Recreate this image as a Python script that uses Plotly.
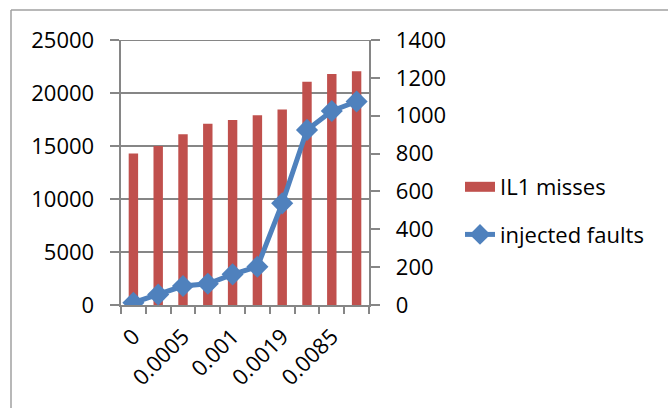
import plotly.graph_objects as go

categories = ["0", "0.0001", "0.0005", "0.0008", "0.001", "0.0015", "0.0019", "0.005", "0.0085", "0.01"]
il1_misses = [14300, 15000, 16100, 17100, 17450, 17900, 18450, 21050, 21800, 22050]
injected_faults = [12, 55, 100, 112, 162, 202, 537, 925, 1025, 1075]
left_ticks = [0, 5000, 10000, 15000, 20000, 25000]
right_ticks = [0, 200, 400, 600, 800, 1000, 1200, 1400]

W, H = 668, 408
L, R, T, B = 121, 369, 40, 305
pw, ph = R - L, B - T

def px_x(x):
    return (x - L) / pw

def px_y(y):
    return (B - y) / ph

font = dict(family="Open Sans, Liberation Sans, sans-serif", size=22, color="#000000")
grey = "#868686"
red = "#C0504D"
blue = "#4F81BD"

fig = go.Figure()
fig.add_trace(go.Bar(x=categories, y=il1_misses, name="IL1 misses",
                     marker=dict(color=red, line=dict(width=0)), yaxis="y",
                     showlegend=False, legendgroup="a"))
# legend entry for the bars, drawn as a wide block like the original
fig.add_trace(go.Scatter(x=[None], y=[None], name="IL1 misses", mode="lines",
                         line=dict(color=red, width=16), legendgroup="a",
                         showlegend=True, hoverinfo="skip"))
fig.add_trace(go.Scatter(x=categories, y=injected_faults, name="injected faults",
                         mode="lines+markers", yaxis="y2", legendgroup="b",
                         line=dict(color=blue, width=5),
                         marker=dict(symbol="diamond", size=17, color=blue)))

ticktext = [c if i % 2 == 0 else "" for i, c in enumerate(categories)]

# gridlines at the left-axis tick values, placed on the data axes, beneath the bars
grid_shapes = [
    dict(type="line", xref="x", yref="y", x0=-0.5, x1=len(categories) - 0.5,
         y0=v, y1=v, layer="below", line=dict(color=grey, width=2))
    for v in left_ticks[1:]
]

fig.update_layout(
    width=W, height=H,
    margin=dict(l=L, r=W - R, t=T, b=H - B, pad=0, autoexpand=False),
    paper_bgcolor="white", plot_bgcolor="rgba(0,0,0,0)",
    font=font,
    bargap=0.62,
    hovermode=False,
    showlegend=True,
    legend=dict(x=px_x(460), y=px_y(211), xanchor="left", yanchor="middle",
                font=font, bgcolor="rgba(0,0,0,0)", tracegroupgap=16, itemwidth=30),
    xaxis=dict(type="category", categoryorder="array", categoryarray=categories,
               tickmode="array", tickvals=categories, ticktext=ticktext,
               tickson="boundaries", ticks="outside", ticklen=7, tickcolor=grey,
               tickwidth=2, showline=True, linecolor=grey, linewidth=2, showgrid=False,
               tickangle=-45, range=[-0.5, len(categories) - 0.5], automargin=False,
               ticklabelstandoff=8),
    yaxis=dict(range=[0, 25000], tickmode="array", tickvals=left_ticks,
               ticktext=[str(v) + "  " for v in left_ticks], ticks="outside", ticklen=9,
               tickwidth=2, tickcolor=grey, showline=True, linecolor=grey, linewidth=2,
               showgrid=True, gridcolor=grey, gridwidth=2, zeroline=False,
               automargin=False, layer="below traces"),
    yaxis2=dict(range=[0, 1400], tickmode="array", tickvals=right_ticks,
                ticktext=["  " + str(v) for v in right_ticks], overlaying="y", side="right",
                ticks="outside", ticklen=9, tickwidth=2, tickcolor=grey, showline=True,
                linecolor=grey, linewidth=2, showgrid=False, zeroline=False,
                automargin=False),
    shapes=grid_shapes + [
        dict(type="line", xref="paper", yref="paper", x0=px_x(11), x1=px_x(11),
             y0=px_y(10), y1=px_y(410), line=dict(color="#A0A0A0", width=1.5)),
        dict(type="line", xref="paper", yref="paper", x0=px_x(11), x1=px_x(670),
             y0=px_y(10), y1=px_y(10), line=dict(color="#A0A0A0", width=1.5)),
    ],
)

fig.write_html("out.html", config={"displayModeBar": False, "staticPlot": True})

# remove the browser's default page margin so the figure fills the window exactly
with open("out.html", "r", encoding="utf-8") as f:
    html = f.read()
html = html.replace("<head>", "<head><style>html,body{margin:0;padding:0;overflow:hidden;}</style>", 1)
with open("out.html", "w", encoding="utf-8") as f:
    f.write(html)
